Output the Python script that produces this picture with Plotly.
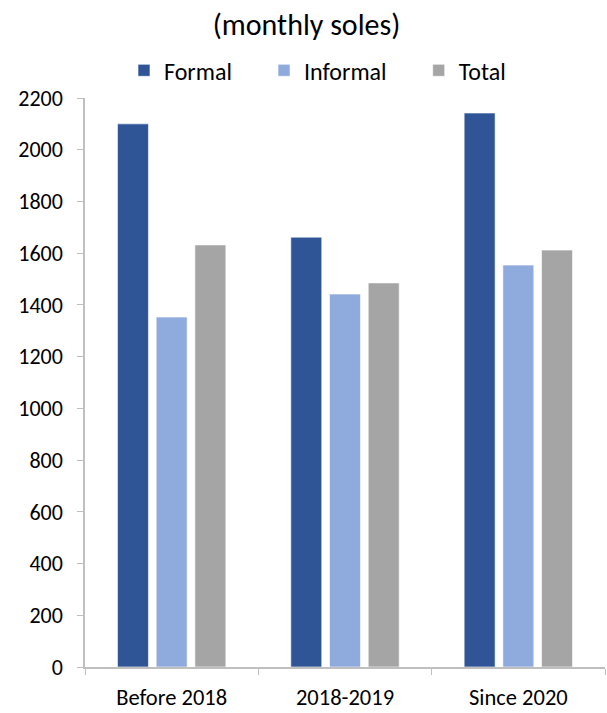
import plotly.graph_objects as go

categories = ["Before 2018", "2018-2019", "Since 2020"]
formal = [2100, 1662, 2142]
informal = [1353, 1442, 1554]
total = [1632, 1485, 1612]

series = [
    ("Formal", formal, "#2F5597"),
    ("Informal", informal, "#8FAADC"),
    ("Total", total, "#A5A5A5"),
]

FONT = "Carlito, Lato, 'Open Sans', sans-serif"

fig = go.Figure()
for name, vals, color in series:
    fig.add_trace(go.Bar(
        x=categories, y=vals, name=name + "\u00a0" * 5,
        marker=dict(color=color, line=dict(color="rgba(255,255,255,0.6)", width=1)),
    ))

fig.update_layout(
    width=607, height=713,
    margin=dict(l=85, r=2, t=98, b=46),
    paper_bgcolor="white", plot_bgcolor="white",
    barmode="group", bargap=0.33, bargroupgap=0.2,
    font=dict(family=FONT, size=22, color="#000000"),
    title=dict(text="(monthly soles)", x=0.505, xanchor="center", y=0.966, yanchor="middle",
               font=dict(family=FONT, size=30, color="#000000")),
    legend=dict(orientation="h", x=0.075, xanchor="left", y=1.048, yanchor="middle",
                font=dict(family=FONT, size=24), itemclick=False, traceorder="normal"),
    showlegend=True,
)
fig.update_xaxes(
    type="category", showline=True, linecolor="#BFBFBF", linewidth=1.5,
    ticks="outside", tickson="boundaries", ticklen=6, tickcolor="#BFBFBF",
    showgrid=False, tickfont=dict(family=FONT, size=22.5), ticklabelstandoff=9,
)
fig.update_yaxes(
    range=[0, 2200], dtick=200, showline=True, linecolor="#BFBFBF", linewidth=1.5,
    ticks="outside", ticklen=6, tickcolor="#BFBFBF", showgrid=False,
    tickfont=dict(family=FONT, size=22), zeroline=False, ticklabelstandoff=10,
)

fig.write_html("out.html")
